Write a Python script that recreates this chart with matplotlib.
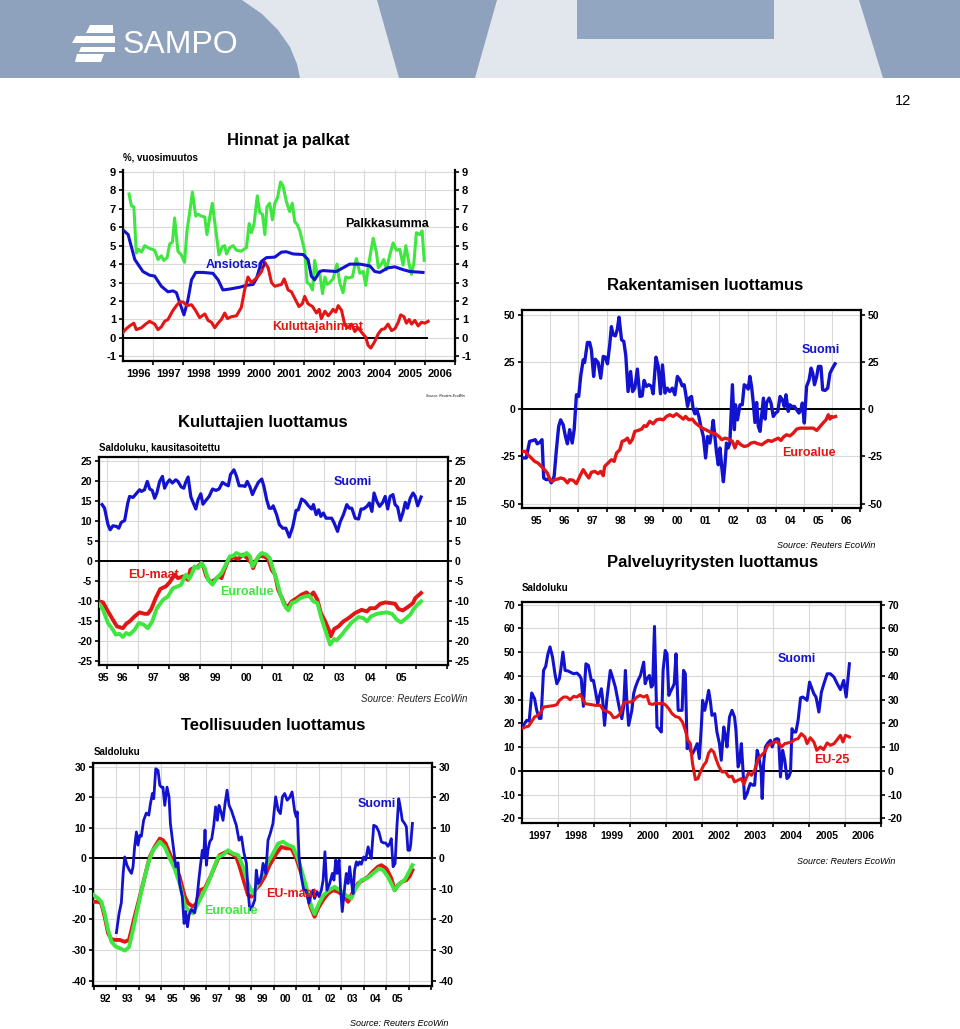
import matplotlib
matplotlib.use("Agg")
import matplotlib.pyplot as plt
from matplotlib import font_manager
from matplotlib.patches import Polygon

# ---- data: (year, value) pairs ----

# Hinnat ja palkat, %, vuosimuutos
ansiotaso = [(1996.00, 5.85), (1996.17, 5.6), (1996.39, 4.25), (1996.66, 3.6), (1996.88, 3.4), (1997.05, 3.35),
             (1997.27, 2.8), (1997.49, 2.5), (1997.66, 2.55), (1997.77, 2.45), (1997.88, 1.9), (1998.02, 1.25),
             (1998.15, 2.05), (1998.27, 3.15), (1998.41, 3.55), (1998.65, 3.55), (1998.98, 3.5), (1999.15, 3.15),
             (1999.31, 2.6), (1999.54, 2.65), (1999.87, 2.75), (2000.09, 2.85), (2000.31, 2.9), (2000.42, 3.2),
             (2000.59, 4.15), (2000.75, 4.35), (2001.03, 4.38), (2001.25, 4.65), (2001.41, 4.67), (2001.64, 4.55),
             (2001.97, 4.52), (2002.13, 4.25), (2002.24, 3.35), (2002.35, 3.15), (2002.52, 3.6), (2002.63, 3.65),
             (2003.07, 3.6), (2003.29, 3.8), (2003.51, 4.0), (2003.85, 4.0), (2004.18, 3.9), (2004.34, 3.6),
             (2004.51, 3.55), (2004.78, 3.8), (2005.01, 3.85), (2005.28, 3.7), (2005.50, 3.6), (2005.94, 3.55)]

palkkasumma = [(1996.20, 7.8), (1996.28, 7.15), (1996.36, 7.1), (1996.44, 4.6), (1996.52, 4.8), (1996.61, 4.65),
               (1996.72, 5.0), (1996.88, 4.85), (1997.05, 4.75), (1997.16, 4.25), (1997.27, 4.45), (1997.35, 4.2),
               (1997.46, 4.35), (1997.55, 5.1), (1997.64, 5.2), (1997.71, 6.5), (1997.82, 4.7), (1997.93, 4.5),
               (1998.04, 4.1), (1998.12, 5.8), (1998.21, 6.8), (1998.30, 7.9), (1998.41, 6.6), (1998.49, 6.7),
               (1998.60, 6.6), (1998.71, 6.55), (1998.78, 5.6), (1998.87, 6.5), (1998.96, 7.3), (1999.07, 5.9),
               (1999.18, 4.5), (1999.29, 4.95), (1999.37, 5.0), (1999.43, 4.55), (1999.54, 4.9), (1999.65, 5.0),
               (1999.76, 4.75), (1999.92, 4.7), (2000.09, 4.9), (2000.18, 6.2), (2000.25, 5.7), (2000.34, 6.15),
               (2000.45, 7.7), (2000.53, 6.8), (2000.62, 6.7), (2000.70, 5.6), (2000.77, 7.1), (2000.86, 7.3),
               (2000.95, 6.4), (2001.03, 7.3), (2001.12, 7.6), (2001.22, 8.45), (2001.30, 8.25), (2001.41, 7.4),
               (2001.52, 6.85), (2001.61, 7.3), (2001.69, 6.3), (2001.77, 6.15), (2001.86, 5.8), (2002.02, 4.7),
               (2002.10, 3.0), (2002.19, 2.9), (2002.28, 2.6), (2002.35, 4.2), (2002.44, 3.4), (2002.52, 3.5),
               (2002.61, 2.4), (2002.69, 3.3), (2002.76, 2.9), (2002.85, 3.0), (2002.96, 3.2), (2003.09, 4.0),
               (2003.18, 3.0), (2003.29, 2.45), (2003.38, 3.3), (2003.46, 3.25), (2003.60, 3.3), (2003.73, 4.3),
               (2003.85, 3.5), (2003.96, 3.6), (2004.04, 2.85), (2004.15, 4.1), (2004.29, 5.4), (2004.40, 4.6),
               (2004.46, 3.8), (2004.56, 4.0), (2004.64, 4.25), (2004.73, 3.7), (2004.84, 4.5), (2004.95, 5.15),
               (2005.06, 4.75), (2005.17, 4.8), (2005.28, 3.95), (2005.37, 5.0), (2005.48, 4.0), (2005.56, 3.45),
               (2005.64, 4.1), (2005.72, 5.7), (2005.83, 5.6), (2005.91, 5.8), (2005.98, 4.2)]

kuluttajahinnat = [(1996.00, 0.3), (1996.11, 0.5), (1996.22, 0.65), (1996.36, 0.8), (1996.44, 0.45), (1996.61, 0.55),
                   (1996.75, 0.75), (1996.88, 0.9), (1997.05, 0.75), (1997.16, 0.45), (1997.27, 0.6), (1997.38, 0.9),
                   (1997.49, 1.0), (1997.64, 1.45), (1997.77, 1.75), (1997.88, 1.95), (1997.99, 1.95), (1998.12, 1.75),
                   (1998.27, 1.8), (1998.38, 1.55), (1998.54, 1.1), (1998.71, 1.3), (1998.82, 0.95), (1998.93, 0.85),
                   (1999.04, 0.55), (1999.15, 0.8), (1999.26, 1.0), (1999.37, 1.35), (1999.46, 1.05), (1999.59, 1.15),
                   (1999.76, 1.2), (1999.92, 1.65), (2000.03, 2.6), (2000.14, 3.3), (2000.25, 3.0), (2000.36, 3.15),
                   (2000.48, 3.35), (2000.59, 3.6), (2000.70, 4.1), (2000.81, 3.8), (2000.92, 3.0), (2001.03, 2.8),
                   (2001.14, 2.85), (2001.25, 2.9), (2001.34, 3.2), (2001.47, 2.6), (2001.58, 2.5), (2001.72, 2.05),
                   (2001.83, 1.7), (2001.94, 1.85), (2002.02, 2.25), (2002.13, 1.85), (2002.28, 1.7), (2002.41, 1.35),
                   (2002.50, 1.55), (2002.57, 1.05), (2002.69, 1.45), (2002.80, 1.2), (2002.88, 1.35), (2002.96, 1.55),
                   (2003.05, 1.4), (2003.13, 1.75), (2003.24, 1.5), (2003.35, 0.7), (2003.46, 0.55), (2003.57, 0.75),
                   (2003.68, 0.35), (2003.79, 0.55), (2003.93, 0.25), (2004.04, 0.05), (2004.12, -0.4), (2004.21, -0.55),
                   (2004.34, -0.2), (2004.45, 0.2), (2004.56, 0.45), (2004.67, 0.5), (2004.78, 0.75), (2004.90, 0.4),
                   (2005.01, 0.5), (2005.12, 0.85), (2005.20, 1.25), (2005.31, 1.15), (2005.39, 0.8), (2005.48, 1.0),
                   (2005.56, 0.75), (2005.67, 0.95), (2005.78, 0.65), (2005.89, 0.85), (2006.00, 0.8), (2006.11, 0.9)]

# Kuluttajien luottamus, saldoluku
kul_suomi = [(1995.84, 14.2), (1995.92, 13.3), (1996.03, 9.2), (1996.10, 7.9), (1996.19, 8.9), (1996.30, 8.75),
             (1996.38, 8.3), (1996.46, 9.75), (1996.57, 10.25), (1996.67, 14.6), (1996.73, 16.25), (1996.84, 16.0),
             (1996.94, 16.9), (1997.05, 17.9), (1997.11, 17.5), (1997.21, 17.9), (1997.30, 20.0), (1997.38, 18.1),
             (1997.46, 17.75), (1997.54, 15.8), (1997.61, 17.1), (1997.70, 20.0), (1997.79, 21.25), (1997.86, 18.3),
             (1997.94, 19.6), (1998.02, 20.4), (1998.11, 19.6), (1998.22, 20.4), (1998.29, 20.0), (1998.40, 18.6),
             (1998.48, 18.3), (1998.54, 19.75), (1998.62, 21.1), (1998.71, 16.1), (1998.78, 14.75), (1998.87, 13.1),
             (1998.94, 15.4), (1999.03, 16.9), (1999.10, 14.3), (1999.19, 15.2), (1999.30, 16.25), (1999.41, 18.1),
             (1999.52, 17.75), (1999.62, 18.1), (1999.73, 19.75), (1999.84, 19.2), (1999.92, 18.9), (1999.99, 21.7),
             (2000.10, 22.9), (2000.18, 21.4), (2000.27, 18.9), (2000.38, 18.9), (2000.46, 18.75), (2000.53, 20.0),
             (2000.62, 18.6), (2000.70, 16.7), (2000.78, 18.1), (2000.89, 19.75), (2001.00, 20.6), (2001.07, 18.75),
             (2001.16, 15.4), (2001.24, 13.3), (2001.32, 13.3), (2001.37, 13.9), (2001.48, 11.7), (2001.57, 9.2),
             (2001.68, 8.3), (2001.78, 8.3), (2001.89, 6.1), (2002.00, 8.6), (2002.11, 12.75), (2002.18, 12.9),
             (2002.29, 15.6), (2002.40, 15.0), (2002.51, 13.9), (2002.61, 13.1), (2002.67, 14.2), (2002.76, 11.7),
             (2002.84, 12.9), (2002.91, 11.25), (2002.99, 12.1), (2003.08, 10.8), (2003.15, 10.8), (2003.26, 10.8),
             (2003.34, 9.6), (2003.45, 7.5), (2003.53, 9.75), (2003.64, 11.7), (2003.75, 14.2), (2003.83, 13.3),
             (2003.91, 13.3), (2004.02, 10.8), (2004.13, 10.6), (2004.21, 13.1), (2004.29, 13.1), (2004.40, 13.75),
             (2004.48, 14.6), (2004.56, 12.5), (2004.63, 17.1), (2004.72, 15.0), (2004.81, 13.75), (2004.91, 14.75),
             (2004.99, 16.25), (2005.07, 13.1), (2005.15, 16.25), (2005.24, 16.7), (2005.31, 14.2), (2005.39, 13.6),
             (2005.48, 10.25), (2005.56, 12.1), (2005.64, 14.75), (2005.71, 13.3), (2005.80, 15.8), (2005.89, 17.1),
             (2005.96, 16.25), (2006.04, 13.9), (2006.15, 16.1)]

kul_eu = [(1995.76, -10.0), (1995.87, -10.25), (1996.03, -12.5), (1996.19, -14.6), (1996.32, -16.25), (1996.51, -16.7),
          (1996.62, -15.6), (1996.73, -15.0), (1996.89, -13.75), (1997.05, -12.75), (1997.21, -13.1), (1997.32, -13.1),
          (1997.43, -11.9), (1997.57, -9.2), (1997.72, -6.9), (1997.90, -6.25), (1998.02, -5.25), (1998.19, -3.3),
          (1998.29, -4.2), (1998.46, -3.75), (1998.62, -4.6), (1998.69, -2.1), (1998.78, -1.7), (1998.94, -1.25),
          (1999.05, -0.4), (1999.13, -1.7), (1999.21, -3.75), (1999.35, -5.25), (1999.48, -4.6), (1999.62, -3.75),
          (1999.70, -4.2), (1999.77, -2.5), (1999.92, 0.4), (2000.08, 1.0), (2000.24, 0.6), (2000.40, 1.7),
          (2000.56, 0.6), (2000.67, -0.4), (2000.72, -1.7), (2000.83, 0.4), (2000.94, 1.4), (2001.07, 1.25),
          (2001.21, 0.6), (2001.32, -2.1), (2001.43, -3.3), (2001.53, -7.1), (2001.68, -9.6), (2001.80, -11.7),
          (2001.97, -10.0), (2002.13, -9.2), (2002.29, -8.3), (2002.45, -7.75), (2002.56, -8.75), (2002.67, -7.75),
          (2002.80, -9.6), (2002.91, -12.9), (2003.05, -15.0), (2003.19, -17.5), (2003.23, -18.75), (2003.34, -16.9),
          (2003.48, -16.25), (2003.64, -15.0), (2003.80, -14.2), (2004.02, -12.9), (2004.23, -12.1), (2004.40, -12.5),
          (2004.50, -11.7), (2004.67, -11.7), (2004.83, -10.6), (2004.99, -10.25), (2005.15, -10.4), (2005.31, -10.6),
          (2005.42, -11.9), (2005.56, -12.25), (2005.75, -11.25), (2005.89, -10.4), (2005.96, -9.2), (2006.15, -7.9)]

kul_euro = [(1995.76, -10.8), (1995.87, -12.1), (1996.03, -15.4), (1996.19, -17.1), (1996.28, -18.3), (1996.40, -18.1),
            (1996.51, -18.9), (1996.62, -17.9), (1996.73, -18.3), (1996.89, -17.1), (1997.03, -15.4), (1997.18, -15.8),
            (1997.32, -16.7), (1997.46, -15.0), (1997.61, -11.7), (1997.81, -9.6), (1997.97, -8.75), (1998.13, -6.7),
            (1998.33, -6.1), (1998.40, -5.8), (1998.48, -4.2), (1998.56, -3.3), (1998.65, -4.4), (1998.73, -3.3),
            (1998.83, -1.25), (1998.94, -1.7), (1999.05, -0.4), (1999.16, -1.7), (1999.27, -4.6), (1999.41, -5.8),
            (1999.54, -4.2), (1999.70, -2.9), (1999.84, -0.8), (1999.97, 1.25), (2000.08, 1.4), (2000.18, 2.1),
            (2000.29, 1.7), (2000.40, 1.4), (2000.51, 2.1), (2000.62, 1.25), (2000.70, -1.25), (2000.78, -0.25),
            (2000.89, 1.25), (2001.00, 2.1), (2001.14, 1.7), (2001.26, 0.8), (2001.37, -2.1), (2001.48, -4.6),
            (2001.59, -7.9), (2001.72, -10.8), (2001.86, -12.25), (2001.97, -10.4), (2002.11, -10.0), (2002.24, -9.2),
            (2002.40, -8.75), (2002.54, -8.6), (2002.67, -10.0), (2002.80, -10.4), (2002.91, -13.75), (2003.05, -17.1),
            (2003.15, -19.4), (2003.21, -20.8), (2003.34, -19.4), (2003.42, -19.75), (2003.59, -18.3), (2003.75, -16.7),
            (2003.91, -15.25), (2004.13, -13.9), (2004.29, -14.2), (2004.40, -15.0), (2004.53, -13.75), (2004.72, -13.1),
            (2004.88, -12.9), (2005.04, -12.75), (2005.21, -13.1), (2005.37, -14.6), (2005.50, -15.25), (2005.67, -14.2),
            (2005.80, -13.3), (2005.91, -11.9), (2006.04, -10.8), (2006.15, -10.0)]

# Teollisuuden luottamus, saldoluku
teo_suomi = [(1993.00, -24.3), (1993.12, -18.0), (1993.22, -14.5), (1993.30, -4.9), (1993.37, 0.5), (1993.47, -2.2),
             (1993.56, -3.6), (1993.67, -4.9), (1993.74, -2.7), (1993.81, 3.8), (1993.89, 8.7), (1993.96, 4.4),
             (1994.04, 7.6), (1994.11, 7.3), (1994.21, 12.5), (1994.33, 14.9), (1994.44, 14.2), (1994.51, 17.8),
             (1994.60, 21.3), (1994.66, 19.6), (1994.75, 29.4), (1994.85, 28.9), (1994.93, 24.0), (1995.00, 23.4),
             (1995.07, 23.4), (1995.15, 17.4), (1995.25, 23.4), (1995.34, 20.2), (1995.40, 11.5), (1995.52, 4.4),
             (1995.64, -2.7), (1995.74, -1.4), (1995.81, -8.2), (1995.93, -12.5), (1996.01, -21.3), (1996.08, -17.4),
             (1996.16, -22.4), (1996.23, -18.5), (1996.33, -16.7), (1996.48, -17.8), (1996.59, -12.5), (1996.66, -7.3),
             (1996.73, -2.7), (1996.82, 2.7), (1996.88, 0.5), (1996.94, 9.3), (1997.00, -2.2), (1997.07, 2.7),
             (1997.15, 5.5), (1997.24, 6.5), (1997.33, 10.9), (1997.41, 16.9), (1997.49, 12.5), (1997.56, 17.4),
             (1997.65, 15.3), (1997.74, 12.5), (1997.83, 18.0), (1997.92, 22.4), (1998.01, 17.4), (1998.11, 15.8),
             (1998.21, 13.6), (1998.33, 10.9), (1998.45, 6.0), (1998.56, 7.1), (1998.66, 2.2), (1998.78, -1.6),
             (1998.85, -10.4), (1998.93, -16.9), (1999.04, -15.8), (1999.15, -13.6), (1999.22, -3.8), (1999.30, -8.2),
             (1999.37, -7.6), (1999.44, -6.0), (1999.52, -1.6), (1999.64, -4.9), (1999.74, 6.0), (1999.84, 8.2),
             (1999.96, 11.5), (2000.08, 20.2), (2000.19, 15.8), (2000.29, 14.7), (2000.38, 20.2), (2000.48, 21.3),
             (2000.59, 19.1), (2000.70, 20.0), (2000.81, 21.8), (2000.93, 15.3), (2001.00, 13.6), (2001.04, 15.3),
             (2001.12, 0.5), (2001.22, -6.0), (2001.33, -10.4), (2001.44, -10.4), (2001.56, -14.7), (2001.65, -12.0),
             (2001.74, -10.4), (2001.81, -13.1), (2001.92, -10.9), (2002.01, -12.5), (2002.11, -10.4), (2002.19, -7.1),
             (2002.27, 2.2), (2002.36, -10.4), (2002.48, -8.2), (2002.60, -4.9), (2002.67, -7.1), (2002.75, -0.5),
             (2002.81, -4.9), (2002.90, -0.5), (2002.96, -9.3), (2003.04, -17.4), (2003.15, -9.3), (2003.22, -4.9),
             (2003.30, -8.2), (2003.37, -2.7), (2003.44, -7.1), (2003.52, -11.5), (2003.59, -3.8), (2003.67, -1.1),
             (2003.74, -2.2), (2003.81, -1.1), (2003.89, -1.9), (2003.99, 0.5), (2004.08, -0.5), (2004.19, 3.8),
             (2004.26, 1.6), (2004.33, 0.0), (2004.44, 10.9), (2004.56, 10.4), (2004.67, 8.7), (2004.78, 5.5),
             (2004.88, 5.1), (2004.97, 5.1), (2005.07, 4.0), (2005.15, 4.9), (2005.22, 6.5), (2005.30, -2.7),
             (2005.39, -1.6), (2005.47, 10.4), (2005.55, 19.6), (2005.62, 16.9), (2005.71, 12.5), (2005.81, 11.5),
             (2005.89, 10.4), (2005.96, 2.7), (2006.04, 2.7), (2006.08, 4.4), (2006.16, 11.5)]

teo_eu = [(1991.99, -14.2), (1992.19, -14.2), (1992.33, -14.7), (1992.48, -19.1), (1992.63, -24.5), (1992.78, -26.5),
          (1992.97, -26.7), (1993.15, -26.7), (1993.37, -27.3), (1993.56, -26.7), (1993.67, -23.4), (1993.81, -19.1),
          (1994.04, -12.5), (1994.26, -6.0), (1994.48, 0.5), (1994.70, 3.8), (1994.93, 6.5), (1995.07, 6.0),
          (1995.19, 4.9), (1995.37, 1.6), (1995.59, -2.2), (1995.81, -6.0), (1996.04, -12.5), (1996.19, -14.7),
          (1996.41, -15.8), (1996.56, -14.7), (1996.70, -10.4), (1996.93, -9.8), (1997.15, -6.5), (1997.37, -2.7),
          (1997.59, 1.1), (1997.89, 2.2), (1998.11, 1.6), (1998.33, 0.5), (1998.48, -2.7), (1998.63, -6.5),
          (1998.85, -12.0), (1999.00, -12.5), (1999.15, -10.4), (1999.37, -8.7), (1999.59, -6.0), (1999.81, -2.2),
          (2000.11, 1.6), (2000.33, 3.8), (2000.56, 3.3), (2000.78, 3.3), (2001.00, 0.0), (2001.22, -4.9),
          (2001.44, -9.8), (2001.62, -15.8), (2001.81, -19.1), (2001.96, -16.4), (2002.19, -13.6), (2002.41, -11.5),
          (2002.63, -10.4), (2002.85, -10.9), (2003.07, -12.0), (2003.30, -14.2), (2003.52, -10.9), (2003.74, -8.2),
          (2003.96, -7.1), (2004.19, -6.0), (2004.38, -4.4), (2004.63, -2.7), (2004.78, -2.2), (2005.00, -3.3),
          (2005.22, -6.5), (2005.37, -10.4), (2005.52, -8.7), (2005.71, -7.6), (2005.89, -7.1), (2006.04, -5.8),
          (2006.16, -3.8)]

teo_euro = [(1991.99, -12.0), (1992.19, -13.1), (1992.33, -14.2), (1992.48, -18.0), (1992.63, -23.4), (1992.78, -27.3),
            (1992.97, -28.9), (1993.15, -29.4), (1993.37, -30.2), (1993.56, -29.1), (1993.74, -23.4), (1993.96, -15.8),
            (1994.19, -8.2), (1994.41, -1.6), (1994.63, 2.7), (1994.93, 5.5), (1995.15, 3.8), (1995.37, 0.0),
            (1995.59, -3.3), (1995.81, -8.2), (1996.04, -15.3), (1996.19, -16.9), (1996.41, -18.0), (1996.63, -14.7),
            (1996.85, -11.5), (1997.07, -8.2), (1997.30, -3.8), (1997.52, 0.5), (1997.74, 1.1), (1997.96, 2.7),
            (1998.19, 1.6), (1998.41, 1.1), (1998.63, -2.7), (1998.85, -8.2), (1999.07, -11.5), (1999.30, -8.2),
            (1999.52, -4.9), (1999.74, -1.1), (1999.96, 1.6), (2000.19, 4.9), (2000.41, 5.5), (2000.63, 4.4),
            (2000.85, 3.8), (2001.07, 0.0), (2001.27, -4.9), (2001.47, -10.4), (2001.67, -15.8), (2001.81, -18.2),
            (2002.01, -14.7), (2002.21, -12.0), (2002.45, -10.4), (2002.70, -9.3), (2002.93, -10.4), (2003.19, -12.0),
            (2003.44, -13.1), (2003.64, -9.8), (2003.89, -7.1), (2004.14, -6.5), (2004.41, -4.9), (2004.67, -3.3),
            (2004.85, -3.8), (2005.07, -6.0), (2005.37, -10.4), (2005.59, -8.2), (2005.81, -7.1), (2006.01, -4.4),
            (2006.16, -2.2)]

# Rakentamisen luottamus
rak_suomi = [(1995.00, -25.8), (1995.15, -25.8), (1995.21, -21.4), (1995.27, -17.0), (1995.39, -16.5), (1995.47, -16.1),
             (1995.54, -18.3), (1995.63, -17.5), (1995.71, -16.1), (1995.77, -36.4), (1995.86, -37.3), (1995.96, -36.9),
             (1996.04, -39.0), (1996.14, -35.5), (1996.22, -21.4), (1996.30, -9.1), (1996.37, -5.6), (1996.46, -8.2),
             (1996.54, -14.4), (1996.61, -18.3), (1996.69, -10.8), (1996.78, -17.9), (1996.85, -10.8), (1996.93, 7.7),
             (1997.01, 6.8), (1997.08, 17.4), (1997.17, 26.2), (1997.22, 24.8), (1997.32, 35.4), (1997.40, 35.4),
             (1997.46, 31.5), (1997.54, 17.4), (1997.60, 26.5), (1997.70, 24.8), (1997.79, 16.5), (1997.88, 28.0),
             (1997.96, 27.6), (1998.03, 24.1), (1998.11, 34.1), (1998.17, 43.8), (1998.23, 39.4), (1998.31, 38.9),
             (1998.38, 42.4), (1998.44, 48.8), (1998.53, 36.8), (1998.61, 35.9), (1998.68, 28.5), (1998.76, 9.4),
             (1998.85, 20.0), (1998.92, 9.4), (1999.00, 11.2), (1999.09, 21.3), (1999.18, 6.8), (1999.26, 7.1),
             (1999.33, 15.3), (1999.41, 12.1), (1999.50, 13.0), (1999.59, 12.1), (1999.65, 8.2), (1999.75, 27.6),
             (1999.83, 22.7), (1999.91, 8.2), (1999.98, 23.5), (2000.07, 8.6), (2000.15, 11.2), (2000.24, 9.4),
             (2000.33, 11.2), (2000.42, 7.7), (2000.51, 17.4), (2000.60, 15.6), (2000.68, 12.4), (2000.75, 13.0),
             (2000.80, 8.6), (2000.87, 1.5), (2000.93, 5.9), (2001.01, 6.8), (2001.07, 0.1), (2001.13, -2.4),
             (2001.19, 0.1), (2001.27, -3.8), (2001.34, -9.1), (2001.43, -14.4), (2001.51, -25.8), (2001.58, -14.4),
             (2001.66, -17.9), (2001.72, -12.6), (2001.78, -5.9), (2001.84, -14.4), (2001.90, -23.2), (2001.96, -29.4),
             (2002.02, -20.5), (2002.08, -30.3), (2002.14, -38.4), (2002.20, -28.5), (2002.25, -17.9), (2002.31, -20.5),
             (2002.37, -17.9), (2002.46, 13.0), (2002.53, -10.8), (2002.57, 2.4), (2002.64, -5.6), (2002.73, 2.4),
             (2002.81, 2.4), (2002.88, 13.0), (2002.96, 12.1), (2003.02, 10.7), (2003.08, 17.4), (2003.14, 12.1),
             (2003.20, 3.6), (2003.26, -7.0), (2003.32, 3.6), (2003.38, -9.1), (2003.44, -11.7), (2003.50, -2.9),
             (2003.56, 5.9), (2003.62, -5.2), (2003.67, 3.3), (2003.76, 5.9), (2003.83, 3.3), (2003.91, -3.8),
             (2003.99, -2.0), (2004.07, -1.1), (2004.15, 6.8), (2004.23, 5.0), (2004.30, 1.5), (2004.36, 7.7),
             (2004.44, -1.1), (2004.50, 2.4), (2004.56, 1.5), (2004.66, 1.5), (2004.74, -0.3), (2004.82, -2.0),
             (2004.89, -0.3), (2004.94, 3.3), (2005.01, -7.3), (2005.09, 12.1), (2005.18, 15.6), (2005.25, 21.8),
             (2005.31, 19.1), (2005.37, 13.0), (2005.45, 17.4), (2005.51, 22.7), (2005.60, 22.7), (2005.66, 10.3),
             (2005.75, 10.0), (2005.84, 11.2), (2005.92, 19.1), (2006.01, 21.8), (2006.10, 24.1)]

rak_euro = [(1995.00, -22.3), (1995.12, -22.3), (1995.21, -24.1), (1995.33, -25.8), (1995.45, -27.6), (1995.57, -28.5),
            (1995.69, -30.3), (1995.80, -32.0), (1995.90, -33.8), (1995.98, -36.9), (1996.07, -38.2), (1996.16, -37.3),
            (1996.28, -36.9), (1996.37, -36.4), (1996.49, -36.9), (1996.61, -39.0), (1996.69, -37.3), (1996.81, -37.6),
            (1996.93, -39.4), (1997.05, -35.5), (1997.17, -32.0), (1997.28, -34.6), (1997.37, -36.4), (1997.46, -33.4),
            (1997.58, -32.9), (1997.70, -34.1), (1997.79, -32.9), (1997.88, -35.2), (1997.93, -30.3), (1998.05, -28.5),
            (1998.17, -26.7), (1998.27, -27.6), (1998.35, -23.2), (1998.47, -21.4), (1998.55, -17.0), (1998.64, -16.5),
            (1998.74, -15.3), (1998.82, -17.9), (1998.91, -16.1), (1999.00, -11.7), (1999.12, -11.2), (1999.24, -10.5),
            (1999.33, -8.7), (1999.41, -9.1), (1999.53, -6.4), (1999.65, -7.7), (1999.77, -5.6), (1999.89, -5.2),
            (2000.01, -5.6), (2000.12, -3.8), (2000.24, -2.9), (2000.36, -3.8), (2000.48, -2.4), (2000.60, -3.8),
            (2000.72, -5.2), (2000.80, -3.8), (2000.92, -5.6), (2001.04, -5.2), (2001.13, -7.0), (2001.27, -8.7),
            (2001.39, -10.0), (2001.51, -10.8), (2001.63, -11.7), (2001.75, -12.6), (2001.86, -13.0), (2001.98, -14.4),
            (2002.08, -16.1), (2002.20, -15.3), (2002.31, -15.8), (2002.46, -17.0), (2002.55, -20.5), (2002.64, -17.0),
            (2002.76, -18.8), (2002.88, -19.7), (2003.00, -19.3), (2003.12, -17.9), (2003.24, -17.5), (2003.38, -18.3),
            (2003.50, -18.8), (2003.62, -17.5), (2003.73, -16.5), (2003.85, -17.0), (2003.97, -16.1), (2004.09, -15.3),
            (2004.18, -16.5), (2004.27, -14.7), (2004.38, -13.5), (2004.50, -14.1), (2004.62, -12.6), (2004.74, -10.5),
            (2004.86, -10.0), (2005.01, -10.0), (2005.15, -10.0), (2005.33, -10.0), (2005.45, -11.2), (2005.57, -9.1),
            (2005.69, -7.0), (2005.78, -5.6), (2005.86, -2.9), (2005.92, -5.2), (2005.98, -3.8), (2006.04, -4.2),
            (2006.12, -3.8)]

# Palveluyritysten luottamus
pal_suomi = [(1997.00, 18.5), (1997.07, 19.9), (1997.13, 21.3), (1997.20, 21.0), (1997.27, 32.8), (1997.35, 30.4),
             (1997.41, 25.5), (1997.48, 22.1), (1997.53, 22.1), (1997.60, 42.3), (1997.66, 44.0), (1997.72, 49.1),
             (1997.78, 52.2), (1997.85, 47.9), (1997.92, 40.7), (1997.97, 36.7), (1998.04, 38.8), (1998.08, 42.6),
             (1998.14, 50.0), (1998.20, 42.3), (1998.28, 42.1), (1998.34, 41.6), (1998.44, 40.9), (1998.53, 41.2),
             (1998.60, 40.2), (1998.65, 38.8), (1998.71, 27.2), (1998.78, 45.1), (1998.85, 44.4), (1998.93, 38.1),
             (1998.99, 38.1), (1999.06, 32.5), (1999.11, 28.3), (1999.15, 31.1), (1999.21, 34.6), (1999.24, 31.1),
             (1999.30, 19.2), (1999.36, 29.7), (1999.46, 42.3), (1999.52, 39.5), (1999.60, 35.3), (1999.67, 29.7),
             (1999.72, 25.8), (1999.78, 22.0), (1999.83, 26.9), (1999.88, 42.3), (1999.92, 29.7), (1999.97, 19.2),
             (2000.02, 22.7), (2000.06, 25.5), (2000.11, 32.5), (2000.16, 35.3), (2000.23, 38.1), (2000.30, 40.2),
             (2000.39, 45.8), (2000.43, 36.7), (2000.48, 38.8), (2000.55, 40.2), (2000.60, 35.3), (2000.64, 36.0),
             (2000.69, 60.8), (2000.76, 18.5), (2000.81, 17.8), (2000.88, 16.4), (2000.93, 42.3), (2000.99, 50.7),
             (2001.04, 49.3), (2001.09, 31.8), (2001.13, 33.2), (2001.20, 35.3), (2001.24, 36.7), (2001.29, 49.3),
             (2001.35, 25.5), (2001.41, 25.5), (2001.46, 25.5), (2001.50, 42.3), (2001.55, 40.9), (2001.60, 9.4),
             (2001.64, 11.5), (2001.69, 8.7), (2001.75, 7.3), (2001.81, 9.0), (2001.88, 11.5), (2001.94, 5.2),
             (2002.00, 19.9), (2002.03, 29.7), (2002.09, 25.5), (2002.15, 29.7), (2002.20, 33.9), (2002.25, 29.0),
             (2002.29, 23.4), (2002.37, 24.1), (2002.43, 16.4), (2002.50, 11.5), (2002.55, 4.5), (2002.62, 18.5),
             (2002.67, 14.3), (2002.71, 10.1), (2002.78, 22.7), (2002.85, 25.5), (2002.92, 22.7), (2002.96, 17.1),
             (2003.02, 1.7), (2003.06, 3.8), (2003.11, 11.5), (2003.15, 1.7), (2003.20, -11.6), (2003.27, -9.5),
             (2003.31, -7.4), (2003.36, -5.3), (2003.43, -6.0), (2003.48, -6.0), (2003.55, 8.7), (2003.59, 6.6),
             (2003.66, 0.3), (2003.69, -11.6), (2003.73, 3.1), (2003.78, 10.1), (2003.85, 11.8), (2003.92, 12.9),
             (2003.97, 10.1), (2004.04, 13.2), (2004.11, 13.6), (2004.15, 13.2), (2004.20, -2.5), (2004.26, 8.7),
             (2004.32, 4.5), (2004.38, -3.2), (2004.43, -2.5), (2004.48, -0.4), (2004.52, 17.8), (2004.57, 16.4),
             (2004.63, 16.4), (2004.69, 21.3), (2004.76, 30.8), (2004.82, 31.1), (2004.89, 30.4), (2004.94, 29.7),
             (2005.01, 37.4), (2005.06, 35.3), (2005.13, 32.5), (2005.19, 31.1), (2005.27, 24.8), (2005.34, 33.2),
             (2005.41, 36.7), (2005.50, 40.9), (2005.59, 40.9), (2005.69, 39.5), (2005.78, 36.7), (2005.87, 34.2),
             (2005.96, 38.1), (2006.03, 31.1), (2006.12, 45.1)]

pal_eu25 = [(1997.00, 17.8), (1997.09, 18.5), (1997.18, 18.8), (1997.26, 20.6), (1997.35, 22.7), (1997.44, 23.4),
            (1997.53, 24.8), (1997.60, 26.9), (1997.74, 27.2), (1997.88, 27.5), (1997.97, 27.9), (1998.04, 29.7),
            (1998.16, 31.1), (1998.25, 31.1), (1998.34, 30.0), (1998.44, 31.4), (1998.53, 31.1), (1998.62, 32.2),
            (1998.69, 30.4), (1998.76, 28.3), (1998.90, 28.0), (1999.04, 27.6), (1999.18, 27.6), (1999.27, 25.5),
            (1999.36, 25.1), (1999.46, 24.4), (1999.55, 22.4), (1999.64, 22.7), (1999.74, 24.1), (1999.83, 28.6),
            (1999.92, 29.0), (2000.02, 29.0), (2000.11, 29.7), (2000.20, 31.1), (2000.29, 31.8), (2000.39, 31.1),
            (2000.48, 31.8), (2000.55, 28.3), (2000.64, 28.0), (2000.73, 28.6), (2000.82, 28.3), (2000.92, 28.6),
            (2001.01, 27.6), (2001.09, 26.2), (2001.18, 24.1), (2001.27, 23.0), (2001.38, 22.4), (2001.47, 20.6),
            (2001.55, 17.1), (2001.62, 12.9), (2001.69, 11.5), (2001.75, 3.1), (2001.83, -3.6), (2001.90, -3.2),
            (2001.97, -0.4), (2002.06, 2.4), (2002.13, 3.8), (2002.20, 7.6), (2002.27, 9.0), (2002.34, 8.0),
            (2002.40, 5.2), (2002.48, 2.0), (2002.57, -0.4), (2002.67, -0.4), (2002.76, -2.5), (2002.85, -2.2),
            (2002.92, -4.6), (2003.02, -3.9), (2003.11, -3.2), (2003.18, -5.6), (2003.24, -3.2), (2003.31, -0.8),
            (2003.39, -1.8), (2003.48, 0.3), (2003.58, 5.2), (2003.67, 6.6), (2003.76, 8.0), (2003.85, 10.8),
            (2003.95, 11.5), (2004.04, 12.2), (2004.13, 12.2), (2004.23, 10.1), (2004.32, 11.5), (2004.41, 11.8),
            (2004.51, 12.2), (2004.60, 13.2), (2004.69, 13.6), (2004.78, 15.7), (2004.88, 14.3), (2004.94, 11.5),
            (2005.03, 14.0), (2005.13, 12.2), (2005.21, 8.7), (2005.31, 10.1), (2005.40, 9.0), (2005.50, 11.8),
            (2005.59, 10.8), (2005.69, 11.5), (2005.78, 13.2), (2005.87, 15.0), (2005.94, 12.2), (2006.01, 15.0),
            (2006.12, 14.3)]

# tick labels
hp_years = list(range(1996, 2007))
kul_years = list(range(1995, 2006))
teo_years = list(range(1992, 2006))
rak_years = list(range(1995, 2007))
pal_years = list(range(1997, 2007))

# ---- style ----
W, H = 960, 1029
BLUE = '#1212cf'
RED = '#e31515'
GREEN = '#3fe63f'
GRID = '#d9d9d9'

names = {f.name for f in font_manager.fontManager.ttflist}
NARROW = 'Liberation Sans Narrow' if 'Liberation Sans Narrow' in names else 'Liberation Sans'
plt.rcParams['font.family'] = ['Liberation Sans', 'DejaVu Sans']
plt.rcParams['font.weight'] = 'bold'

fig = plt.figure(figsize=(W / 100, H / 100), dpi=100)


def box(l, t, r, b):
    return [l / W, 1 - b / H, (r - l) / W, (b - t) / H]


def ftext(x, y, s, **kw):
    fig.text(x / W, 1 - y / H, s, **kw)


def line(ax, pairs, color, lw, z=3):
    xs = [p[0] for p in pairs]
    ys = [p[1] for p in pairs]
    ax.plot(xs, ys, color=color, lw=lw, solid_joinstyle='round', zorder=z)


def setup(ax, xlim, ylim, yticks, years, labels, fs, family, label_x=None):
    ax.set_xlim(*xlim)
    ax.set_ylim(*ylim)
    ax.set_yticks(yticks)
    ax.set_yticklabels([str(v) for v in yticks])
    ax.set_xticks([y for y in range(int(xlim[0]) + 1, int(xlim[1]) + 1)])
    ax.set_xticklabels([])
    pos = label_x if label_x is not None else [y + 0.5 for y in years]
    ax.set_xticks(pos, minor=True)
    ax.set_xticklabels(labels, minor=True)
    ax.tick_params(axis='x', which='minor', length=0, pad=6, labelsize=fs)
    ax.tick_params(axis='x', which='major', length=3, width=1.2, direction='out')
    ax.tick_params(axis='y', left=True, right=True, labelleft=True, labelright=True,
                   length=3, width=1.2, direction='out', labelsize=fs, pad=2)
    for lab in ax.get_xticklabels(minor=True) + ax.get_yticklabels():
        lab.set_fontfamily([family, 'DejaVu Sans'])
        lab.set_fontweight('bold')
    for s in ax.spines.values():
        s.set_linewidth(1.6)
    ax.grid(True, which='major', color=GRID, lw=0.8)
    ax.set_axisbelow(True)


# ---- banner ----
axb = fig.add_axes([0, 1 - 78 / H, 1, 78 / H])
axb.set_xlim(0, W)
axb.set_ylim(78, 0)
axb.axis('off')
axb.add_patch(Polygon([(0, 0), (W, 0), (W, 78), (0, 78)], closed=True, color='#e2e7ed', lw=0))
dark = '#8ea1bd'
axb.add_patch(Polygon([(0, 0), (242, 0), (262, 14), (278, 30), (290, 47), (297, 64), (300, 78), (0, 78)],
                      closed=True, color=dark, lw=0))
axb.add_patch(Polygon([(377, 0), (497, 0), (475, 78), (399, 78)], closed=True, color=dark, lw=0))
axb.add_patch(Polygon([(577, 0), (774, 0), (774, 39), (577, 39)], closed=True, color='#93a6c1', lw=0))
axb.add_patch(Polygon([(859, 0), (W, 0), (W, 78), (883, 78)], closed=True, color=dark, lw=0))
for pts in ([(86, 33), (90, 25), (113, 25), (113, 33)],
            [(72, 43), (76, 36), (115, 36), (115, 43)],
            [(79, 52), (81, 47), (115, 47), (115, 52)],
            [(75, 62), (77, 54), (104, 54), (101, 62)]):
    axb.add_patch(Polygon(pts, closed=True, color='white', lw=0))
axb.text(123, 53, 'SAMPO', color='white', fontsize=23, fontweight='normal',
         family=['Liberation Sans', 'DejaVu Sans'], va='baseline', ha='left')

ftext(903, 101, '12', fontsize=10.5, fontweight='normal', ha='center', va='center')

# ---- Hinnat ja palkat ----
ax1 = fig.add_axes(box(123, 170, 455, 361))
setup(ax1, (1996, 2007), (-1.25, 9.1), list(range(-1, 10)), hp_years,
      [str(y) for y in hp_years], 8, 'Liberation Sans')
ax1.spines['top'].set_visible(False)
ax1.hlines(0, hp_years[0], kuluttajahinnat[-1][0], color='black', lw=1.4, zorder=2)
line(ax1, palkkasumma, GREEN, 2.2)
line(ax1, ansiotaso, BLUE, 2.2)
line(ax1, kuluttajahinnat, RED, 2.2)
ax1.text(1998.75, 3.95, 'Ansiotaso', color=BLUE, fontsize=9, va='center', zorder=5)
ax1.text(2003.35, 6.2, 'Palkkasumma', color='black', fontsize=9, va='center', zorder=5)
ax1.text(2000.95, 0.6, 'Kuluttajahinnat', color=RED, fontsize=9, va='center', zorder=5)
ftext(288, 141, 'Hinnat ja palkat', fontsize=12, ha='center', va='center')
ftext(123, 157, '%, vuosimuutos', fontsize=7, ha='left', va='center')
ftext(465, 396, 'Source: Reuters EcoWin', fontsize=2.5, fontweight='normal', style='italic',
      ha='right', va='center')

# ---- Kuluttajien luottamus ----
ax2 = fig.add_axes(box(99, 457, 448, 665))
kul_pos = [1995.87] + [y + 0.5 for y in kul_years[1:]]
setup(ax2, (1995.74, 2007.02), (-25.9, 26.1), list(range(-25, 30, 5)), kul_years,
      [str(y)[2:] for y in kul_years], 7.5, 'Liberation Sans', label_x=kul_pos)
ax2.axhline(0, color='black', lw=1.4, zorder=2)
line(ax2, kul_suomi, BLUE, 2.3)
line(ax2, kul_eu, RED, 2.8)
line(ax2, kul_euro, GREEN, 2.8, z=4)
ax2.text(2003.32, 19.75, 'Suomi', color=BLUE, fontsize=9, va='center', zorder=5)
ax2.text(1996.67, -3.3, 'EU-maat', color=RED, fontsize=9, va='center', zorder=5)
ax2.text(1999.64, -7.75, 'Euroalue', color=GREEN, fontsize=9, va='center', zorder=5)
ftext(263, 422, 'Kuluttajien luottamus', fontsize=12, ha='center', va='center')
ftext(99, 447, 'Saldoluku, kausitasoitettu', fontsize=7, ha='left', va='center')
ftext(467, 699, 'Source: Reuters EcoWin', fontsize=7, fontweight='normal', style='italic',
      ha='right', va='center', color='#222222')

# ---- Teollisuuden luottamus ----
ax3 = fig.add_axes(box(93, 763, 432, 986))
setup(ax3, (1991.96, 2007.03), (-41.8, 31.3), list(range(-40, 40, 10)), teo_years,
      [str(y)[2:] for y in teo_years], 7.5, NARROW)
ax3.axhline(0, color='black', lw=1.4, zorder=2)
line(ax3, teo_eu, RED, 2.8)
line(ax3, teo_euro, GREEN, 2.8, z=4)
line(ax3, teo_suomi, BLUE, 2.0, z=5)
ax3.text(2003.74, 18, 'Suomi', color=BLUE, fontsize=9, va='center', zorder=6, family=[NARROW, 'DejaVu Sans'])
ax3.text(1999.67, -11.5, 'EU-maat', color=RED, fontsize=9, va='center', zorder=6, family=[NARROW, 'DejaVu Sans'])
ax3.text(1996.88, -17.1, 'Euroalue', color=GREEN, fontsize=9, va='center', zorder=6, family=[NARROW, 'DejaVu Sans'])
ftext(273, 725, 'Teollisuuden luottamus', fontsize=12, ha='center', va='center')
ftext(94, 752, 'Saldoluku', fontsize=7, ha='left', va='center', family=[NARROW, 'DejaVu Sans'])
ftext(448, 1023, 'Source: Reuters EcoWin', fontsize=6.5, fontweight='normal', style='italic',
      ha='right', va='center', family=[NARROW, 'DejaVu Sans'])

# ---- Rakentamisen luottamus ----
ax4 = fig.add_axes(box(522, 310, 861, 508))
setup(ax4, (1995, 2007.02), (-52.3, 52.6), [-50, -25, 0, 25, 50], rak_years,
      [str(y)[2:] for y in rak_years], 7.5, NARROW)
ax4.axhline(0, color='black', lw=1.4, zorder=2)
line(ax4, rak_suomi, BLUE, 2.4)
line(ax4, rak_euro, RED, 2.4, z=4)
ax4.text(2004.92, 31.5, 'Suomi', color=BLUE, fontsize=9, va='center', zorder=6, family=[NARROW, 'DejaVu Sans'])
ax4.text(2004.21, -23.2, 'Euroalue', color=RED, fontsize=9, va='center', zorder=6, family=[NARROW, 'DejaVu Sans'])
ftext(705, 285, 'Rakentamisen luottamus', fontsize=12, ha='center', va='center')
ftext(875, 546, 'Source: Reuters EcoWin', fontsize=6.5, fontweight='normal', style='italic',
      ha='right', va='center', family=[NARROW, 'DejaVu Sans'])

# ---- Palveluyritysten luottamus ----
ax5 = fig.add_axes(box(522, 602, 881, 823))
setup(ax5, (1997, 2007), (-21.9, 71.1), list(range(-20, 80, 10)), pal_years,
      [str(y) for y in pal_years], 7.5, NARROW)
ax5.axhline(0, color='black', lw=1.4, zorder=2)
line(ax5, pal_suomi, BLUE, 2.2)
line(ax5, pal_eu25, RED, 2.2, z=4)
ax5.text(2004.13, 47.2, 'Suomi', color=BLUE, fontsize=9, va='center', zorder=6, family=[NARROW, 'DejaVu Sans'])
ax5.text(2005.14, 4.5, 'EU-25', color=RED, fontsize=9, va='center', zorder=6, family=[NARROW, 'DejaVu Sans'])
ftext(713, 563, 'Palveluyritysten luottamus', fontsize=12, ha='center', va='center')
ftext(522, 588, 'Saldoluku', fontsize=7, ha='left', va='center', family=[NARROW, 'DejaVu Sans'])
ftext(895, 861, 'Source: Reuters EcoWin', fontsize=6.5, fontweight='normal', style='italic',
      ha='right', va='center', family=[NARROW, 'DejaVu Sans'])

fig.savefig('out.png', dpi=100)
